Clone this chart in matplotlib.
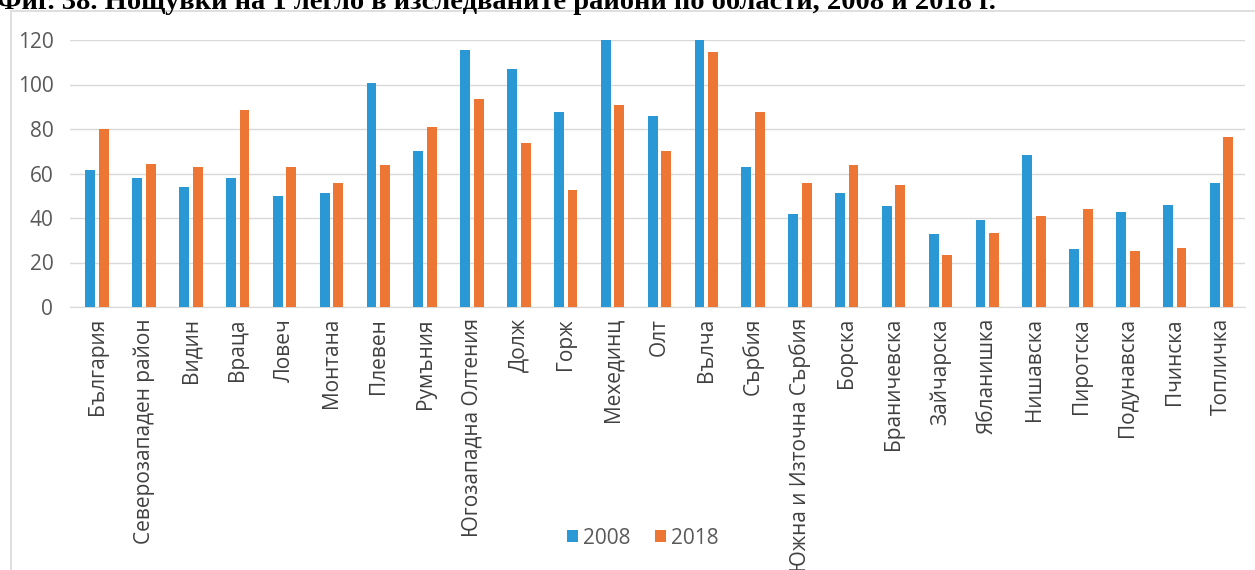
import matplotlib
matplotlib.use("Agg")
import matplotlib.pyplot as plt
import numpy as np
from matplotlib.patches import Rectangle

categories = ["България", "Северозападен район", "Видин", "Враца", "Ловеч", "Монтана",
              "Плевен", "Румъния", "Югозападна Олтения", "Долж", "Горж", "Мехединц",
              "Олт", "Вълча", "Сърбия", "Южна и Източна Сърбия", "Борска", "Браничевска",
              "Зайчарска", "Ябланишка", "Нишавска", "Пиротска", "Подунавска", "Пчинска",
              "Топличка"]
values_2008 = [61.6, 57.8, 54.1, 58.0, 49.7, 51.2, 100.8, 70.0, 115.5, 106.8, 87.7, 125.0,
               85.7, 125.0, 62.8, 42.0, 51.2, 45.2, 33.0, 39.0, 68.5, 25.9, 42.5, 45.9, 55.7]
values_2018 = [79.8, 64.3, 63.1, 88.7, 62.7, 55.7, 63.6, 80.9, 93.7, 73.6, 52.6, 90.7,
               70.0, 114.8, 87.7, 55.6, 63.6, 54.8, 23.2, 33.4, 40.7, 44.0, 25.2, 26.7, 76.4]
series_names = ["2008", "2018"]
yticks = [0, 20, 40, 60, 80, 100, 120]
title = "Фиг. 38. Нощувки на 1 легло в изследваните райони по области, 2008 и 2018 г."

blue = "#2B98D6"
orange = "#EE7634"
tick_color = "#595959"

fig = plt.figure(figsize=(12.55, 5.7), dpi=100)
W, H = 1255, 570

# chart frame
fig.patches.append(Rectangle((11 / W, -0.1), 1.2, 1 - 11 / H + 0.1, transform=fig.transFigure,
                             fill=False, edgecolor="#D9D9D9", linewidth=1.2, zorder=0))

ax = fig.add_axes([70 / W, 1 - 307 / H, (1245 - 70) / W, (307 - 40) / H])
x = np.arange(len(categories))
bw = 0.21
off = 0.145
ax.bar(x - off, values_2008, width=bw, color=blue, label=series_names[0], zorder=3)
ax.bar(x + off, values_2018, width=bw, color=orange, label=series_names[1], zorder=3)

ax.set_ylim(0, 120)
ax.set_xlim(-0.58, 24.5)
ax.set_yticks(yticks)
ax.yaxis.grid(True, color="#D9D9D9", linewidth=1.0, zorder=0)
ax.set_axisbelow(True)
for s in ["top", "right", "left"]:
    ax.spines[s].set_visible(False)
ax.spines["bottom"].set_color("#D9D9D9")
ax.tick_params(axis="y", length=0, labelsize=15, labelcolor=tick_color, pad=12)
ax.tick_params(axis="x", length=0, labelsize=15, labelcolor="#404040", pad=8)
ax.set_xticks(x)
ax.set_xticklabels(categories, rotation=90, va="top", ha="center")
for lab in ax.get_xticklabels() + ax.get_yticklabels():
    lab.set_family("Open Sans")

leg = fig.legend(loc="center", bbox_to_anchor=(643 / W, 1 - 538 / H), ncol=2, frameon=False,
                 prop={"family": "Open Sans", "size": 15}, handlelength=0.5, handleheight=0.5,
                 handletextpad=0.25, columnspacing=1.2)
for t in leg.get_texts():
    t.set_color(tick_color)

fig.text(-0.002, 1 - 9 / H, title, family="Liberation Serif", fontweight="bold", fontsize=20.5,
         ha="left", va="baseline", color="black")

fig.savefig("out.png", dpi=100, facecolor="white")
